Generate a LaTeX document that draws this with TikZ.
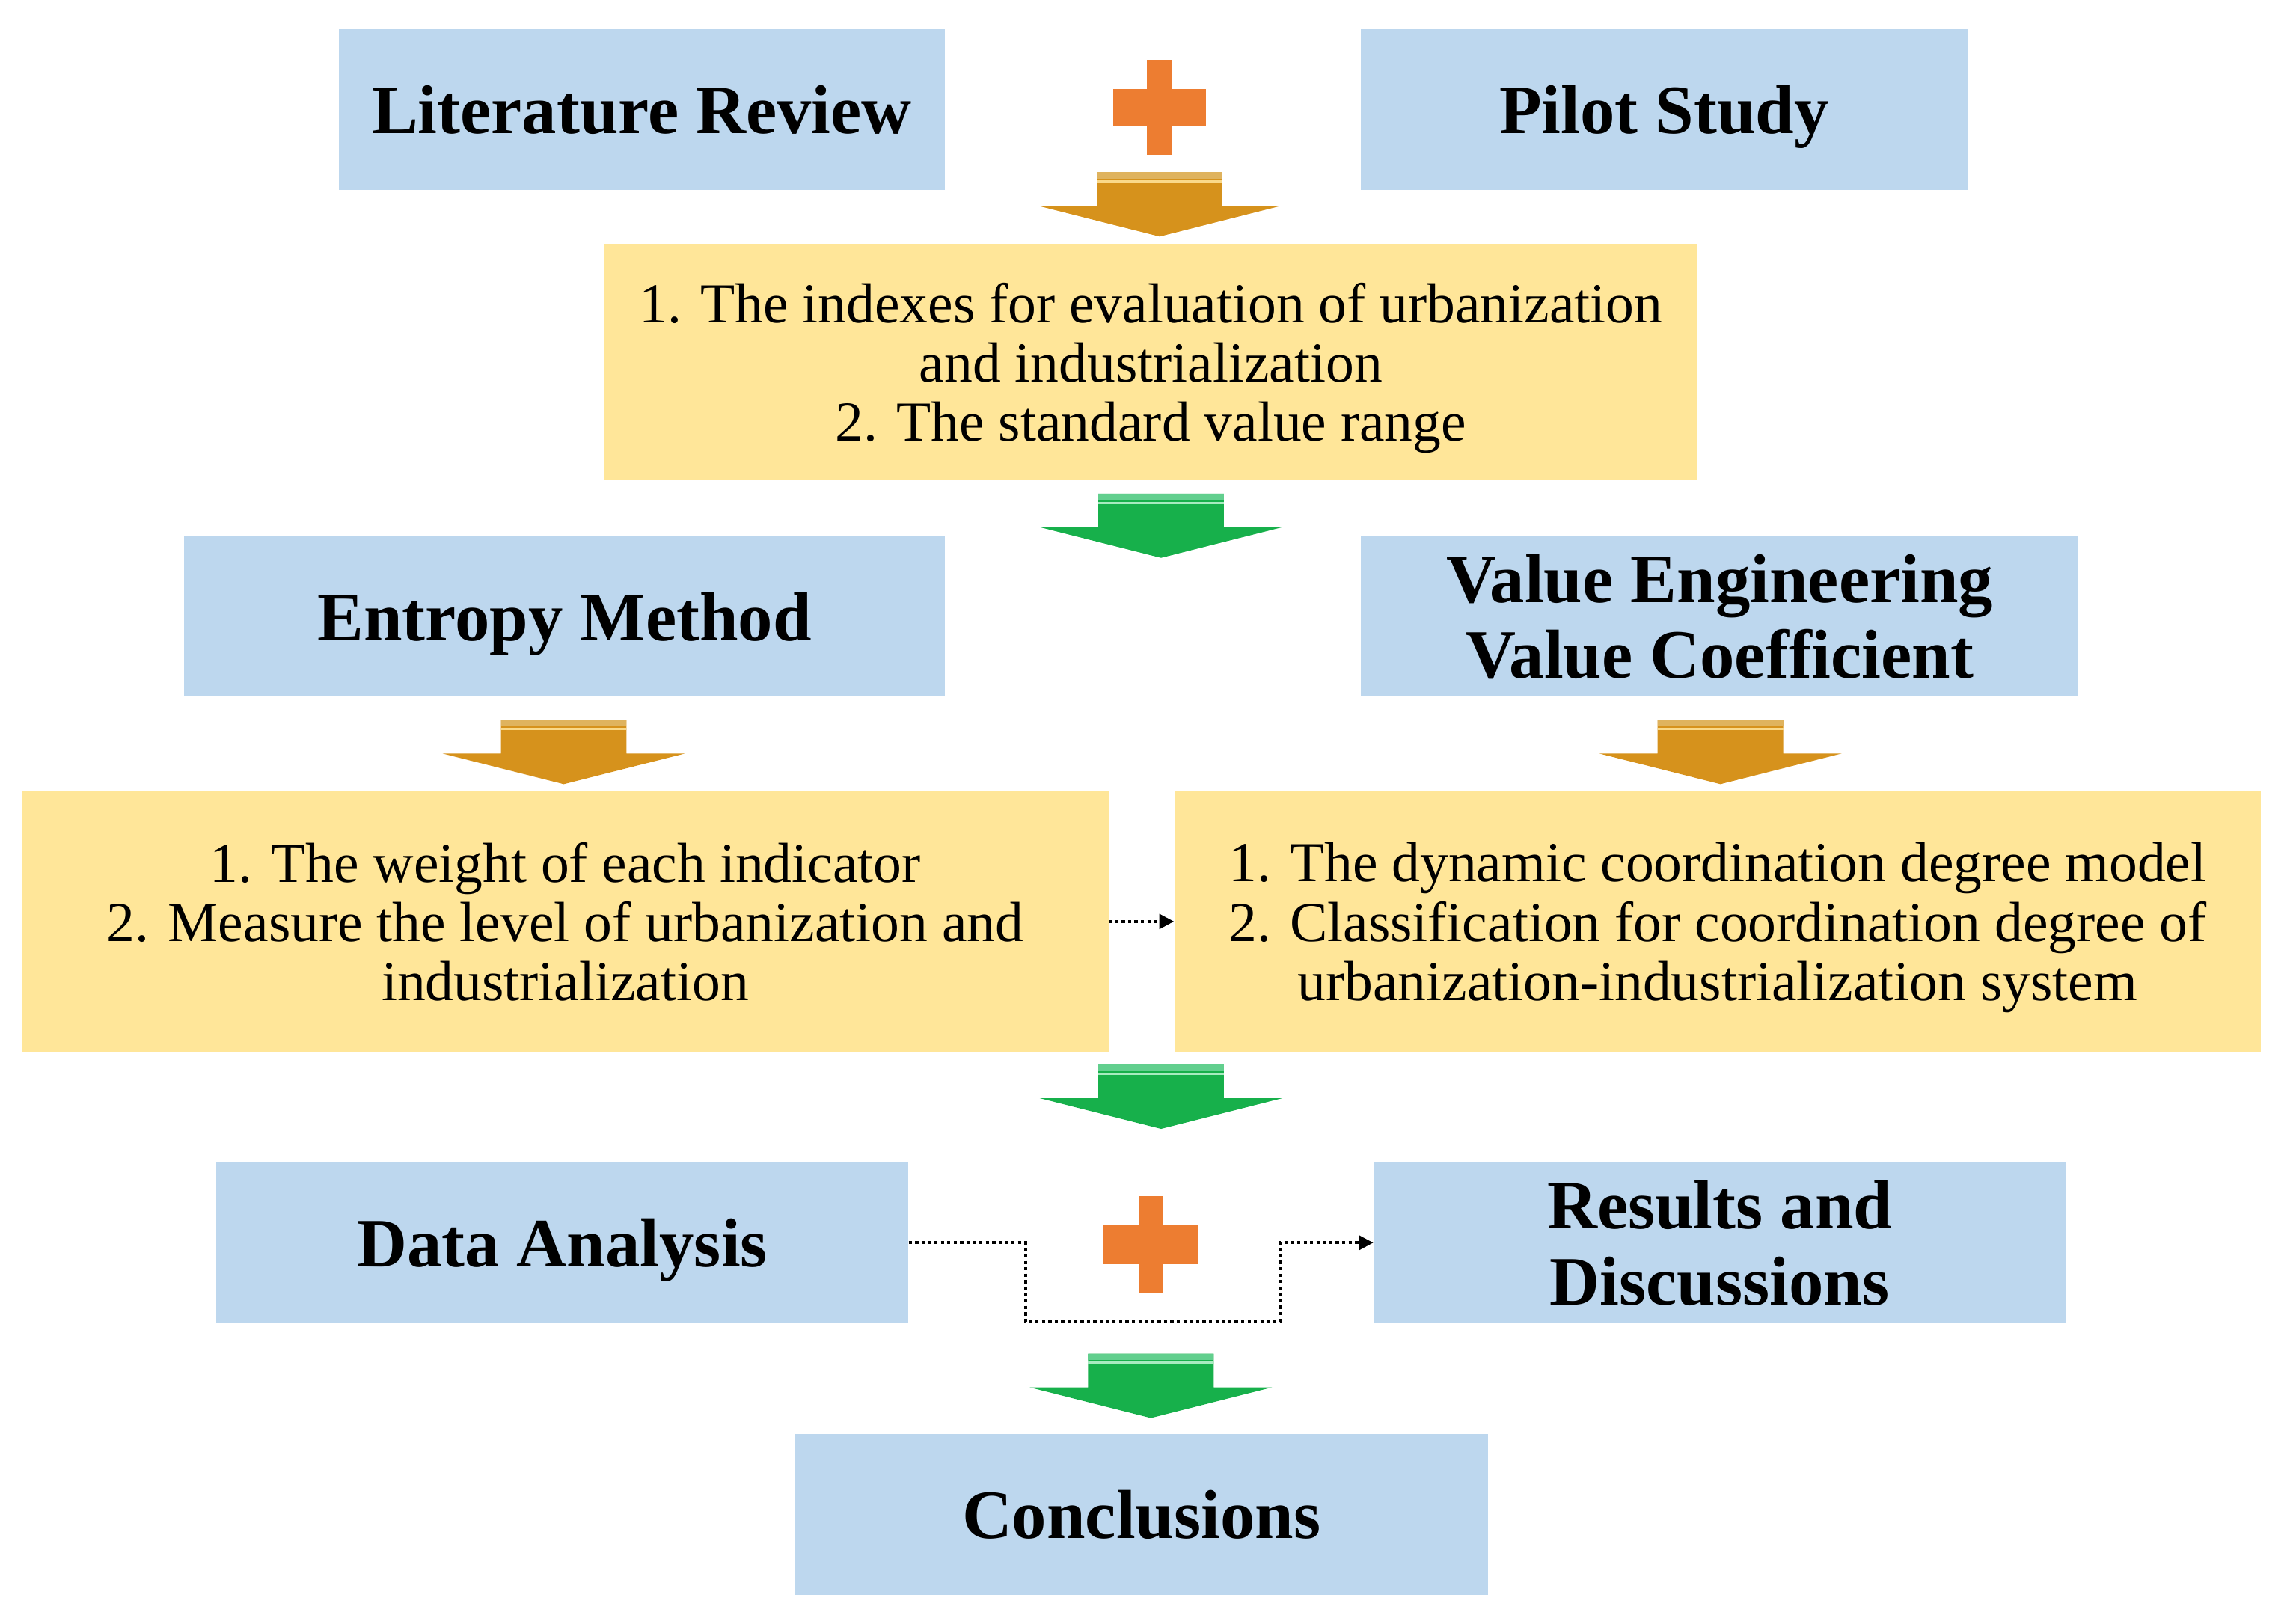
\documentclass[tikz,border=0pt]{standalone}
\usepackage{fontspec}
\setmainfont{Liberation Serif}
\usetikzlibrary{arrows.meta}
\definecolor{boxblue}{HTML}{BDD7EE}
\definecolor{boxyellow}{HTML}{FFE699}
\definecolor{plusorange}{HTML}{ED7D31}
\definecolor{arrorange}{HTML}{D6921C}
\definecolor{arrorangeband}{HTML}{DFB35E}
\definecolor{arrorangeline}{HTML}{FAD98A}
\definecolor{arrgreen}{HTML}{17B04B}
\definecolor{arrgreenband}{HTML}{62CF8E}
\definecolor{arrgreenline}{HTML}{A8EBC0}
\newcommand\blockarrow[5]{%
  \fill[#3] (#1-43,#2) -- (#1+43,#2) -- (#1+43,#2+23) -- (#1+83,#2+23)
    -- (#1,#2+44) -- (#1-83,#2+23) -- (#1-43,#2+23) -- cycle;
  \fill[#4] (#1-43,#2) rectangle (#1+43,#2+4.5);
  \fill[#5] (#1-43,#2+5.5) rectangle (#1+43,#2+7);
}
\newcommand\plussign[5]{% cx, cy, total w, total h, horizontal bar thickness
  \fill[plusorange] (#1-#3/2,#2-#5/2) rectangle (#1+#3/2,#2+#5/2);
  \fill[plusorange] (#1-8.5,#2-#4/2) rectangle (#1+8.5,#2+#4/2);
}
\begin{document}
\begin{tikzpicture}[x=1pt,y=-1pt,
  titlebox/.style={fill=boxblue, inner sep=0pt, align=center, text depth=0pt,
    font=\bfseries\fontsize{47.5}{52}\selectfont},
  itembox/.style={fill=boxyellow, inner sep=0pt, align=center, text depth=0pt,
    font=\fontsize{38.7}{40.5}\selectfont},
  dotconn/.style={line width=2pt, dash pattern=on 2.2pt off 2.2pt,
    -{Triangle[length=10pt,width=10pt]}}]
\useasboundingbox (0,0) rectangle (1568,1112);
\fill[white] (0,0) rectangle (1568,1112);

% boxes
\node[titlebox, minimum width=415, minimum height=110] (lit) at (439.5,75) {Literature Review};
\node[titlebox, minimum width=415, minimum height=110] (pilot) at (1139.5,75) {Pilot Study};
\node[itembox, minimum width=748, minimum height=162] (idx) at (788,248)
  {1. The indexes for evaluation of urbanization\\ and industrialization\\ 2. The standard value range};
\node[titlebox, minimum width=521, minimum height=109] (entropy) at (386.5,422) {Entropy Method};
\node[titlebox, minimum width=491, minimum height=109] (value) at (1177.5,422) {Value Engineering\\ Value Coefficient};
\node[itembox, minimum width=744, minimum height=178] (weight) at (387,631)
  {1. The weight of each indicator\\ 2. Measure the level of urbanization and\\ industrialization};
\node[itembox, minimum width=744, minimum height=178] (dyn) at (1176,631)
  {1. The dynamic coordination degree model\\ 2. Classification for coordination degree of\\ urbanization-industrialization system};
\node[titlebox, minimum width=474, minimum height=110] (data) at (385,851) {Data Analysis};
\node[titlebox, minimum width=474, minimum height=110] (results) at (1177.5,851) {Results and\\ Discussions};
\node[titlebox, minimum width=475, minimum height=110] (concl) at (781.5,1037) {Conclusions};

% plus signs
\plussign{794}{73.5}{63.5}{65}{25.6}
\plussign{788}{852}{65}{66}{27}

% block arrows
\blockarrow{794}{118}{arrorange}{arrorangeband}{arrorangeline}
\blockarrow{795}{338}{arrgreen}{arrgreenband}{arrgreenline}
\blockarrow{386}{493}{arrorange}{arrorangeband}{arrorangeline}
\blockarrow{1178}{493}{arrorange}{arrorangeband}{arrorangeline}
\blockarrow{795}{729}{arrgreen}{arrgreenband}{arrgreenline}
\blockarrow{788}{927}{arrgreen}{arrgreenband}{arrgreenline}

% dotted connectors
\draw[dotconn] (weight.east) -- (dyn.west);
\draw[dotconn] (data.east) -- ++(80,0) -- ++(0,54) -| ([xshift=-64pt]results.west) -- (results.west);
\end{tikzpicture}
\end{document}
